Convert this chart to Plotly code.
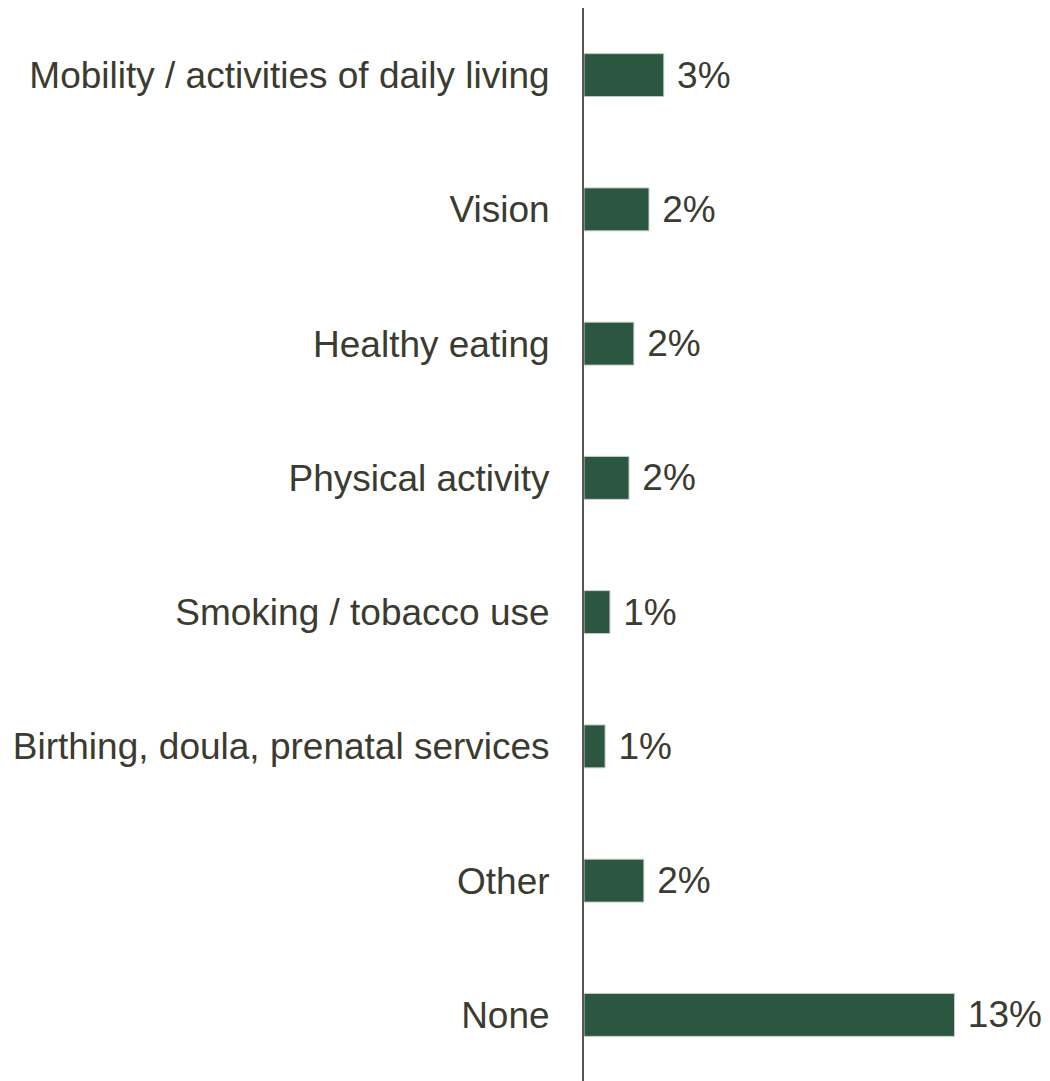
import plotly.graph_objects as go

categories = [
    "Mobility / activities of daily living",
    "Vision",
    "Healthy eating",
    "Physical activity",
    "Smoking / tobacco use",
    "Birthing, doula, prenatal services",
    "Other",
    "None",
]
values = [2.8, 2.28, 1.75, 1.58, 0.91, 0.74, 2.1, 13.0]
labels = ["3%", "2%", "2%", "2%", "1%", "1%", "2%", "13%"]

FONT = "Liberation Sans, Arial"

fig = go.Figure(
    go.Bar(
        x=values,
        y=categories,
        orientation="h",
        text=labels,
        texttemplate=" %{text}",
        textposition="outside",
        cliponaxis=False,
        marker=dict(color="#2b5640", line=dict(color="#c8cdc8", width=1)),
        width=0.32,
        textfont=dict(size=37, color="#3b3b30", family=FONT),
    )
)

fig.update_layout(
    width=1050,
    height=1081,
    margin=dict(l=576, r=0, t=0, b=7, pad=0),
    plot_bgcolor="white",
    paper_bgcolor="white",
    showlegend=False,
    font=dict(family=FONT, size=37, color="#3b3b30"),
    xaxis=dict(range=[0, 16.63], visible=False, automargin=False),
    yaxis=dict(
        autorange="reversed",
        automargin=False,
        showline=True,
        linecolor="#5a5550",
        linewidth=2,
        ticks="",
        ticklabelstandoff=25,
        showgrid=False,
        tickfont=dict(size=37, color="#3b3b30", family=FONT),
    ),
)

fig.write_html("out.html")
